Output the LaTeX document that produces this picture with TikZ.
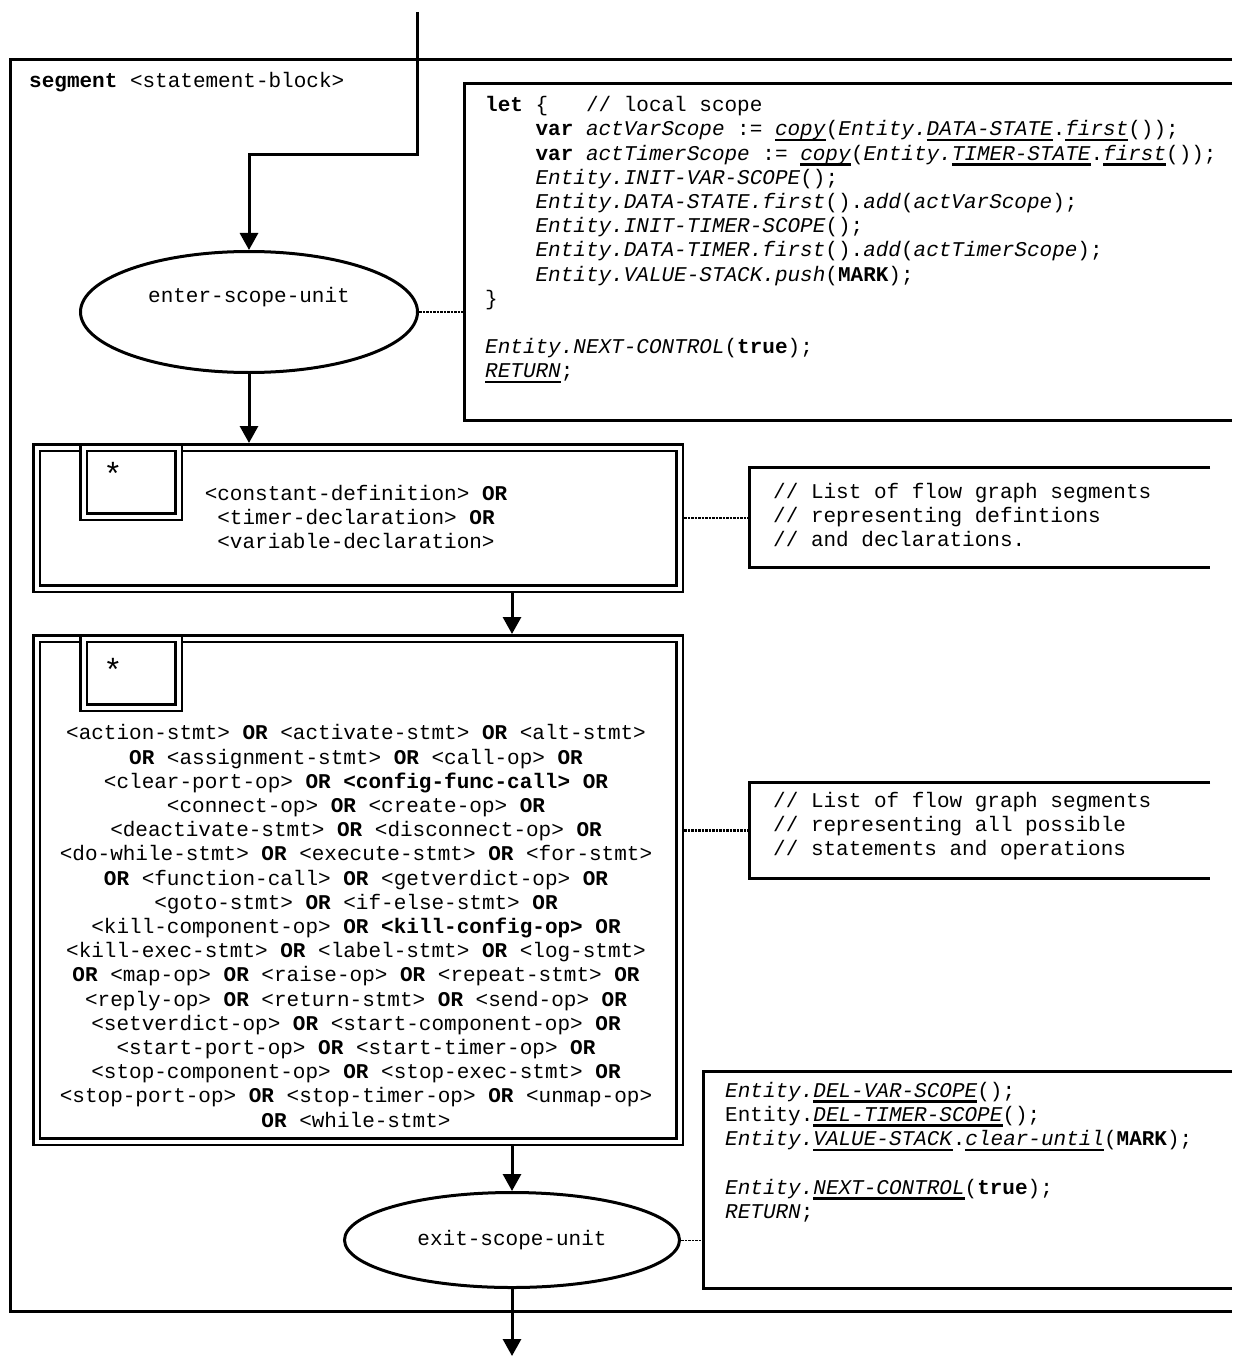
\documentclass[tikz,border=0pt]{standalone}
\usepackage{fontspec}
\setmainfont{Liberation Mono}
\usetikzlibrary{shapes.geometric,arrows.meta}

\newsavebox{\ulbox}
\newcommand{\undl}[1]{\sbox{\ulbox}{#1}\rlap{\rule[-5.5pt]{\wd\ulbox}{2.6pt}}\usebox{\ulbox}}
\newcommand{\OR}{\textbf{OR}}
\newcommand{\ind}{\hspace*{50.4pt}}
\newcommand{\codefont}{\fontsize{21}{24.2}\selectfont\frenchspacing}

\begin{document}
\begin{tikzpicture}[x=1pt,y=-1pt,
    every node/.style={font=\codefont,inner sep=0pt},
    unit/.style={ellipse,draw,line width=3pt,fill=white},
    seg/.style={rectangle,draw,double,double distance=4pt,line width=2.5pt,outer sep=4.5pt},
    note/.style={rectangle,draw=none},
    star/.style={font=\fontsize{32}{32}\selectfont},
    side/.style={line width=3pt},
    flow/.style={line width=3pt,-{Triangle[width=18pt,length=17pt]}},
    link/.style={line width=2.5pt,densely dotted}]
    \useasboundingbox (0,0) rectangle (1245,1356);

    % frame of the segment
    \draw[side] (1232,60) -| (10,1311) -- (1232,1311);
    \node (title) [anchor=west] at (29,82) {\textbf{segment} <statement-block>};

    % enter-scope-unit and its code
    \node (enter) [unit,minimum width=337pt,minimum height=121pt,text depth=34pt] at (249,312) {enter-scope-unit};
    \node (letbox) [note,minimum width=767pt,minimum height=336pt] at (848.5,252) {};
    \draw[side] (letbox.north east) -- (letbox.north west) -- (letbox.south west) -- (letbox.south east);
    \node (lettext) [anchor=west,align=left] at (485,240) {%
        \textbf{let} \{\ \ \ // local scope\\
        \ind\textbf{var} \textit{actVarScope} := \undl{\textit{copy}}(\textit{Entity.}\undl{\textit{DATA-STATE}}.\undl{\textit{first}}());\\
        \ind\textbf{var} \textit{actTimerScope} := \undl{\textit{copy}}(\textit{Entity.}\undl{\textit{TIMER-STATE}}.\undl{\textit{first}}());\\
        \ind\textit{Entity.INIT-VAR-SCOPE}();\\
        \ind\textit{Entity.DATA-STATE.first}().\textit{add}(\textit{actVarScope});\\
        \ind\textit{Entity.INIT-TIMER-SCOPE}();\\
        \ind\textit{Entity.DATA-TIMER.first}().\textit{add}(\textit{actTimerScope});\\
        \ind\textit{Entity.VALUE-STACK.push}(\textbf{MARK});\\
        \}\\[24.2pt]
        \textit{Entity.NEXT-CONTROL}(\textbf{true});\\
        \undl{\textit{RETURN}};};

    % definitions and declarations
    \node (defs) [seg,minimum width=643pt,minimum height=141pt] at (358,518) {};
    \node (defsmark) [seg,minimum width=95pt,minimum height=69pt] at (131,482) {};
    \node (defsstar) [star] at (113,474) {*};
    \node (defstext) [align=center] at (356,517) {<constant-definition> \OR\\<timer-declaration> \OR\\<variable-declaration>};
    \node (defsnote) [note,minimum width=460pt,minimum height=99pt] at (980,517.5) {};
    \draw[side] (defsnote.north east) -- (defsnote.north west) -- (defsnote.south west) -- (defsnote.south east);
    \node (defsnotetext) [anchor=west,align=left] at (773,515) {// List of flow graph segments\\// representing defintions\\// and declarations.};

    % statements and operations
    \node (stmts) [seg,minimum width=643pt,minimum height=503pt] at (358,890) {};
    \node (stmtsmark) [seg,minimum width=95pt,minimum height=69pt] at (131,673) {};
    \node (stmtsstar) [star] at (113,670) {*};
    \node (stmtstext) [align=center] at (356,926) {%
        <action-stmt> \OR{} <activate-stmt> \OR{} <alt-stmt>\\
        \OR{} <assignment-stmt> \OR{} <call-op> \OR\\
        <clear-port-op> \OR{} \textbf{<config-func-call>} \OR\\
        <connect-op> \OR{} <create-op> \OR\\
        <deactivate-stmt> \OR{} <disconnect-op> \OR\\
        <do-while-stmt> \OR{} <execute-stmt> \OR{} <for-stmt>\\
        \OR{} <function-call> \OR{} <getverdict-op> \OR\\
        <goto-stmt> \OR{} <if-else-stmt> \OR\\
        <kill-component-op> \OR{} \textbf{<kill-config-op>} \OR\\
        <kill-exec-stmt> \OR{} <label-stmt> \OR{} <log-stmt>\\
        \OR{} <map-op> \OR{} <raise-op> \OR{} <repeat-stmt> \OR\\
        <reply-op> \OR{} <return-stmt> \OR{} <send-op> \OR\\
        <setverdict-op> \OR{} <start-component-op> \OR\\
        <start-port-op> \OR{} <start-timer-op> \OR\\
        <stop-component-op> \OR{} <stop-exec-stmt> \OR\\
        <stop-port-op> \OR{} <stop-timer-op> \OR{} <unmap-op>\\
        \OR{} <while-stmt>};
    \node (stmtsnote) [note,minimum width=460pt,minimum height=95pt] at (980,830.5) {};
    \draw[side] (stmtsnote.north east) -- (stmtsnote.north west) -- (stmtsnote.south west) -- (stmtsnote.south east);
    \node (stmtsnotetext) [anchor=west,align=left] at (773,826) {// List of flow graph segments\\// representing all possible\\// statements and operations};

    % exit-scope-unit and its code
    \node (exit) [unit,minimum width=335pt,minimum height=95pt] at (512,1240) {exit-scope-unit};
    \node (retbox) [note,minimum width=528pt,minimum height=216pt] at (968,1180) {};
    \draw[side] (retbox.north east) -- (retbox.north west) -- (retbox.south west) -- (retbox.south east);
    \node (rettext) [anchor=west,align=left] at (725,1152) {%
        \textit{Entity.}\undl{\textit{DEL-VAR-SCOPE}}();\\
        Entity.\undl{\textit{DEL-TIMER-SCOPE}}();\\
        \textit{Entity.}\undl{\textit{VALUE-STACK}}.\undl{\textit{clear-until}}(\textbf{MARK});\\[24.2pt]
        \textit{Entity.}\undl{\textit{NEXT-CONTROL}}(\textbf{true});\\
        \textit{RETURN};};

    % control flow
    \coordinate (in) at (417,12);
    \coordinate (bend) at (417,155);
    \coordinate (out) at (512,1356);
    \draw[flow] (in) -- (bend) -| (enter.north);
    \draw[flow] (enter.south) -- (enter.south |- defs.north);
    \draw[flow] (exit.north |- defs.south) -- (exit.north |- stmts.north);
    \draw[flow] (exit.north |- stmts.south) -- (exit.north);
    \draw[flow] (exit.south) -- (out);

    % comment links
    \draw[link] (enter.east) -- (enter.east -| letbox.west);
    \draw[link] (defs.east) -- (defs.east -| defsnote.west);
    \draw[link] (stmtsnote.west -| stmts.east) -- (stmtsnote.west);
    \draw[link,line width=1pt] (exit.east) -- (exit.east -| retbox.west);
\end{tikzpicture}
\end{document}
